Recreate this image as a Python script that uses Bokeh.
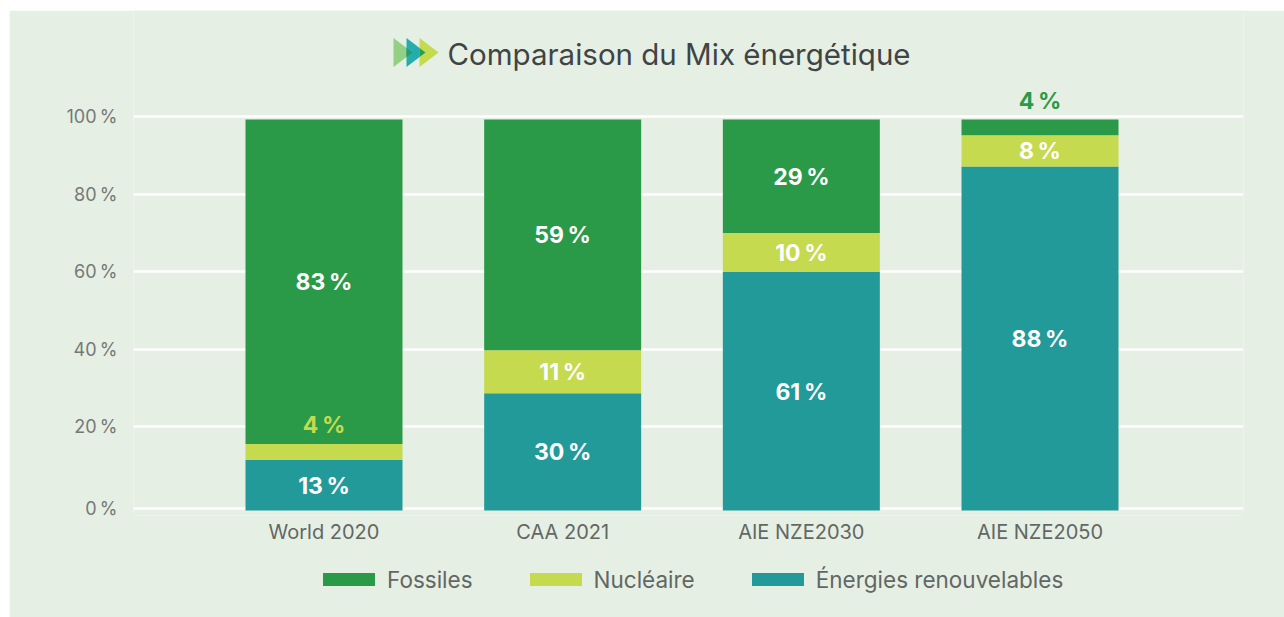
from bokeh.plotting import figure
from bokeh.models import (ColumnDataSource, Range1d, FixedTicker, Legend, LegendItem, PolyAnnotation, Label)
from bokeh.core.properties import value
from bokeh.embed import file_html
from bokeh.resources import INLINE

categories = ["World 2020", "CAA 2021", "AIE NZE2030", "AIE NZE2050"]
renouvelables = [13, 30, 61, 88]
nucleaire = [4, 11, 10, 8]
fossiles = [83, 59, 29, 4]
# the reference's lowest gridline sits a little below the regular 20-unit spacing
tick_values = [-1.14, 20, 40, 60, 80, 100]
tick_labels = ["0\u202f%", "20\u202f%", "40\u202f%", "60\u202f%", "80\u202f%", "100\u202f%"]
chart_title = "Comparaison du Mix énergétique"

BG = "#E6EFE4"
GREEN = "#2A9A48"
LIME = "#C5DA4E"
TEAL = "#239A9A"
FONT = "Inter"
BAR_PX_PER_UNIT = 238.67

xs = list(range(len(categories)))
p = figure(frame_width=1110, frame_height=505, width=1275, height=607, output_backend="svg", toolbar_location=None,
           x_range=Range1d(-(323.5 - 133) / BAR_PX_PER_UNIT, (1243 - 323.5) / BAR_PX_PER_UNIT),
           y_range=Range1d(-11.3 / 3.875, 100 + 106.2 / 3.875),
           min_border_left=124, min_border_right=41, min_border_top=0, min_border_bottom=30,
           background_fill_color=BG, border_fill_color=BG, outline_line_color=None)
p.styles = {"margin-left": "9px", "margin-top": "10px"}
p.extra_y_ranges = {"bars": Range1d(-5 / 3.91, 100 + 109 / 3.91)}

p.xgrid.visible = False
p.ygrid.ticker = FixedTicker(ticks=tick_values)
p.ygrid.grid_line_color = "white"
p.ygrid.grid_line_width = 2.5

for ax in (p.xaxis, p.yaxis):
    ax.axis_line_color = None
    ax.major_tick_line_color = None
    ax.minor_tick_line_color = None
    ax.major_label_text_font = FONT
p.yaxis.ticker = FixedTicker(ticks=tick_values)
p.yaxis.major_label_overrides = dict(zip(tick_values, tick_labels))
p.yaxis.major_label_text_font_size = "18px"
p.yaxis.major_label_text_color = "#747976"
p.yaxis.major_label_standoff = 10
p.xaxis.ticker = FixedTicker(ticks=xs)
p.xaxis.major_label_overrides = dict(zip(xs, categories))
p.xaxis.major_label_text_font_size = "20px"
p.xaxis.major_label_text_color = "#626764"
p.xaxis.major_label_standoff = -2

src = ColumnDataSource(dict(x=xs, ren=renouvelables, nuc=nucleaire, fos=fossiles))
rs = p.vbar_stack(["ren", "nuc", "fos"], x="x", width=157 / BAR_PX_PER_UNIT, source=src,
                  color=[TEAL, LIME, GREEN], line_color=None, y_range_name="bars")

# value labels
in_x, in_y, in_t = [], [], []
ab_x, ab_y, ab_t, ab_c = [], [], [], []
for i, x in enumerate(xs):
    base = 0
    for series, col in ((renouvelables, TEAL), (nucleaire, LIME), (fossiles, GREEN)):
        v = series[i]
        if v < 5:
            ab_x.append(x); ab_y.append(base + v); ab_t.append(f"{v}\u202f%"); ab_c.append(col)
        else:
            in_x.append(x); in_y.append(base + v / 2); in_t.append(f"{v}\u202f%")
        base += v
p.text(in_x, in_y, text=in_t, text_color="white", text_font=value(FONT), text_font_style="bold",
       text_font_size="23px", text_align="center", text_baseline="middle", y_offset=0.5,
       y_range_name="bars")
p.text(ab_x, ab_y, text=ab_t, text_color=ab_c, text_font=value(FONT), text_font_style="bold",
       text_font_size="23px", text_align="center", text_baseline="middle", y_offset=-19,
       y_range_name="bars")

legend = Legend(items=[LegendItem(label="Fossiles", renderers=[rs[2]]),
                       LegendItem(label="Nucléaire", renderers=[rs[1]]),
                       LegendItem(label="Énergies renouvelables", renderers=[rs[0]])],
                orientation="horizontal", location=(183, 690), background_fill_alpha=0,
                border_line_color=None, glyph_width=65, glyph_height=16, label_standoff=6,
                spacing=50, margin=0, padding=0, label_text_font=FONT,
                label_text_font_size="22.5px", label_text_color="#626764")
p.add_layout(legend, "below")

# title and decorative arrow mark, placed in pixels from the plot frame's bottom-left corner
p.add_layout(Label(x=447 - 133, y=515 - 53, x_units="screen", y_units="screen", text=chart_title,
                   text_font=FONT, text_font_size="29.5px", text_color="#3F4444",
                   text_align="left", text_baseline="middle"))

def tri(x0, top, bot, tip, color):
    ptop, pbot = 515 - top, 515 - bot
    p.add_layout(PolyAnnotation(xs=[x0 - 133, x0 - 133, tip - 133], ys=[ptop, pbot, (ptop + pbot) / 2],
                                xs_units="screen", ys_units="screen", fill_color=color, fill_alpha=1,
                                line_color=None))
tri(393, 37.5, 66.5, 412, "#93CF85")
tri(406, 37.5, 66.5, 425, "#25ADAE")
tri(406, 47.5, 56.5, 412, "#2A9A6A")
tri(419, 37.5, 66.5, 438, "#C5DA4E")
tri(419, 47.5, 56.5, 425, "#2A9D4A")

open("out.html", "w").write(file_html(p, INLINE))
